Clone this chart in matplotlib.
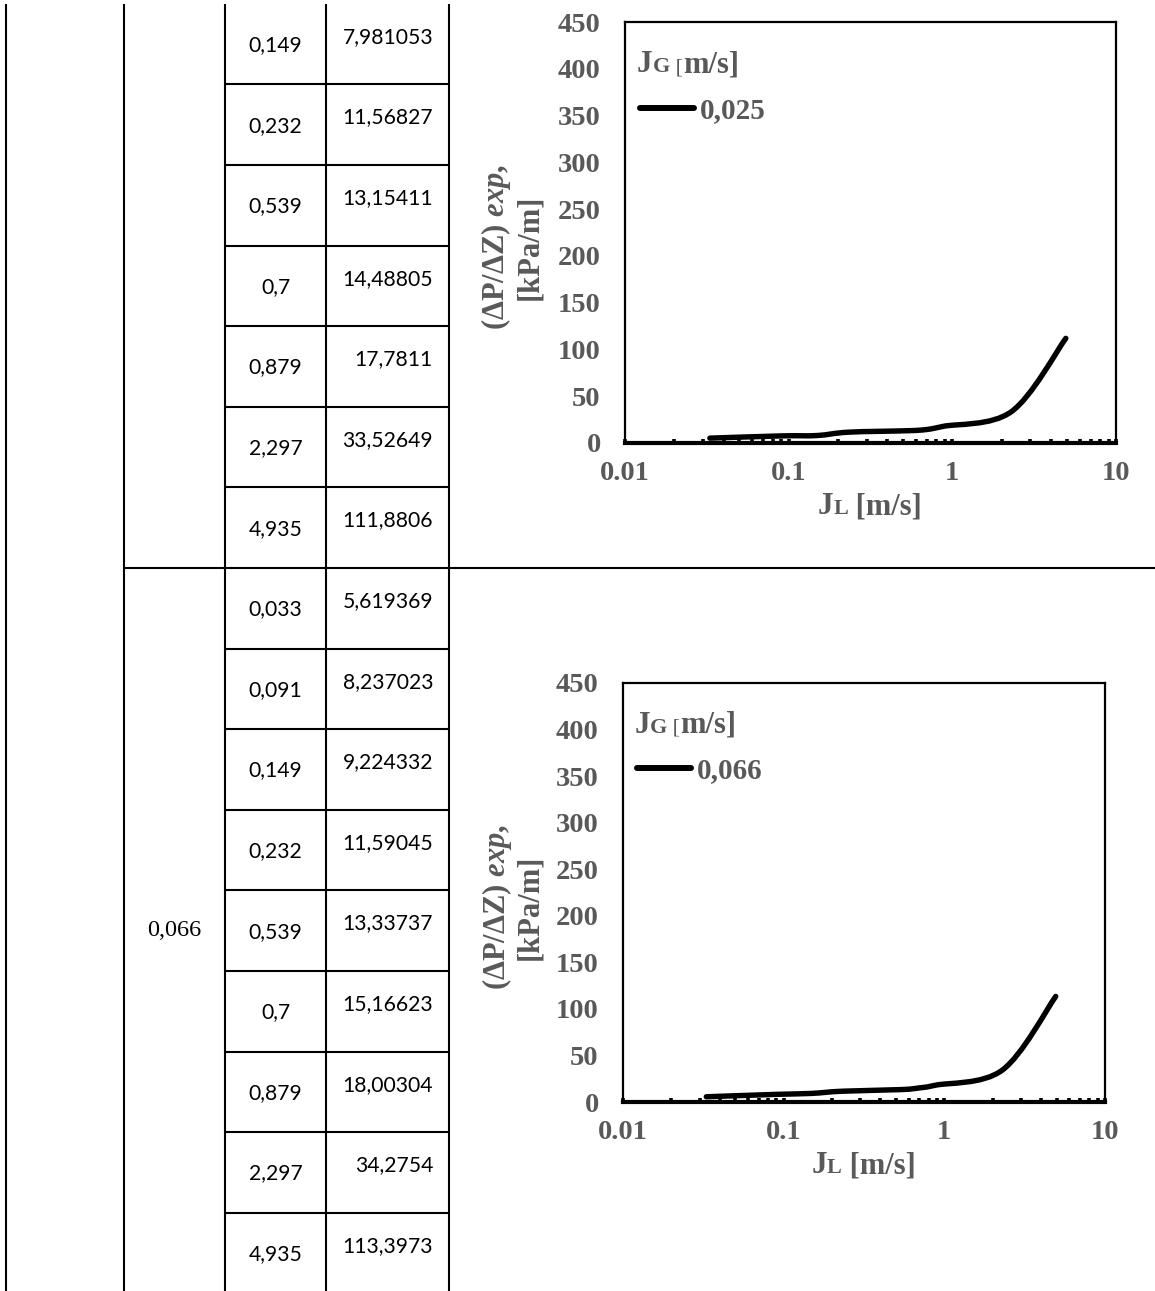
import numpy as np
import matplotlib
matplotlib.use("Agg")
import matplotlib.pyplot as plt
from matplotlib.path import Path
from matplotlib.patches import PathPatch
from matplotlib.lines import Line2D
from matplotlib.ticker import LogLocator, NullFormatter, FixedLocator
from matplotlib.offsetbox import TextArea, HPacker, AnchoredOffsetbox
from matplotlib.font_manager import FontProperties

plt.rcParams['font.family'] = ['Liberation Serif', 'DejaVu Serif']
plt.rcParams['font.weight'] = 'bold'
plt.rcParams['mathtext.fontset'] = 'custom'
plt.rcParams['mathtext.it'] = 'Liberation Serif:italic:bold'
plt.rcParams['mathtext.rm'] = 'Liberation Serif:bold'

# ---- data -----------------------------------------------------------------
# liquid superficial velocity J_L [m/s]
jl = [0.033, 0.091, 0.149, 0.232, 0.539, 0.7, 0.879, 2.297, 4.935]
# measured pressure gradient (dP/dZ)exp [kPa/m] for each gas velocity J_G
dp_jg025 = [5.2, 7.6, 7.981053, 11.56827, 13.15411, 14.48805, 17.7811, 33.52649, 111.8806]
dp_jg066 = [5.619369, 8.237023, 9.224332, 11.59045, 13.33737, 15.16623, 18.00304, 34.2754, 113.3973]
jg_labels = ["0,025", "0,066"]

x_ticks = [0.01, 0.1, 1, 10]
x_tick_labels = ["0.01", "0.1", "1", "10"]
y_ticks = [0, 50, 100, 150, 200, 250, 300, 350, 400, 450]

GRAY = '#595959'
W, H = 1155, 1291


def fmt(v):
    return str(v).replace('.', ',')


fig = plt.figure(figsize=(W / 100, H / 100), dpi=100)

# ---- table grid (pixel coordinates) ----------------------------------------
tab = fig.add_axes([0, 0, 1, 1])
tab.set_xlim(0, W)
tab.set_ylim(H, 0)
tab.axis('off')

col_x = [6, 124, 225, 326, 449]
row_h = 80.6
split_y = 568
first_visible = 2                      # rows of the first block above the page
sec1_top = split_y - (len(jl) - first_visible) * row_h
lw_tab = 1.5

tab.vlines(col_x, sec1_top, H, color='black', lw=lw_tab)
tab.hlines(split_y, col_x[1], W, color='black', lw=lw_tab)
for k in range(1, len(jl) - first_visible):
    tab.hlines(sec1_top + k * row_h, col_x[2], col_x[4], color='black', lw=lw_tab)
for k in range(1, len(jl)):
    tab.hlines(split_y + k * row_h, col_x[2], col_x[4], color='black', lw=lw_tab)

cell_font = dict(family=['Lato', 'DejaVu Sans'], weight='normal', size=15.2, color='black')
xc = (col_x[2] + col_x[3]) / 2
xr = col_x[4] - 16

for i in range(first_visible, len(jl)):
    top = sec1_top + (i - first_visible) * row_h
    tab.text(xc, top + row_h / 2 + 1, fmt(jl[i]), ha='center', va='center', **cell_font)
    tab.text(xr, top + 33, fmt(dp_jg025[i]), ha='right', va='center', **cell_font)

for i in range(len(jl)):
    top = split_y + i * row_h
    tab.text(xc, top + row_h / 2 + 1, fmt(jl[i]), ha='center', va='center', **cell_font)
    tab.text(xr, top + 33, fmt(dp_jg066[i]), ha='right', va='center', **cell_font)

tab.text((col_x[1] + col_x[2]) / 2, (split_y + H) / 2 + 1, jg_labels[1], ha='center', va='center',
         family='Liberation Serif', weight='normal', size=17.5, color='black')


# ---- charts -----------------------------------------------------------------
def smooth_path(x, y):
    """Smoothed curve through the points (Catmull-Rom as cubic Beziers, log-x)."""
    pts = np.column_stack([np.log10(x), np.asarray(y, float)])
    n = len(pts)
    verts = [pts[0]]
    codes = [Path.MOVETO]
    for i in range(n - 1):
        p0 = pts[i - 1] if i > 0 else pts[i]
        p1, p2 = pts[i], pts[i + 1]
        p3 = pts[i + 2] if i + 2 < n else pts[i + 1]
        verts += [p1 + (p2 - p0) / 6, p2 - (p3 - p1) / 6, p2]
        codes += [Path.CURVE4] * 3
    verts = np.array(verts)
    verts[:, 0] = 10 ** verts[:, 0]
    return Path(verts, codes)


def mixed_text(parts):
    areas = [TextArea(s, textprops=dict(family='Liberation Serif', weight=w, size=sz, color=GRAY))
             for s, sz, w in parts]
    return HPacker(children=areas, align='baseline', pad=0, sep=0)


def draw_chart(rect, x, y, label, ylab_y):
    ax = fig.add_axes(rect)
    ax.set_xscale('log')
    ax.set_xlim(x_ticks[0], x_ticks[-1])
    ax.set_ylim(y_ticks[0], y_ticks[-1])
    ax.yaxis.set_major_locator(FixedLocator(y_ticks))
    ax.set_xticks(x_ticks, labels=x_tick_labels)
    ax.xaxis.set_minor_locator(LogLocator(base=10, subs=np.arange(2, 10)))
    ax.xaxis.set_minor_formatter(NullFormatter())

    ax.tick_params(axis='y', length=0, pad=17.5, labelsize=20.5, labelcolor=GRAY)
    ax.tick_params(axis='x', which='both', direction='in', length=3.2, width=2.6,
                   pad=13, labelsize=20.5, labelcolor=GRAY, color='black')
    for side in ('left', 'top', 'right'):
        ax.spines[side].set_linewidth(1.6)
    ax.spines['bottom'].set_linewidth(3.0)

    ax.add_patch(PathPatch(smooth_path(x, y), fill=False, lw=3.9, ec='black',
                           capstyle='round', joinstyle='round', zorder=3))

    handle = Line2D([], [], color='black', lw=4.3, solid_capstyle='round')
    leg = ax.legend([handle], [label], loc='center left', bbox_to_anchor=(0.03, 0.79),
                    frameon=False, handlelength=1.85, handletextpad=0.2,
                    borderpad=0, borderaxespad=0,
                    prop=FontProperties(family='Liberation Serif', weight='bold', size=21))
    for t in leg.get_texts():
        t.set_color(GRAY)

    title = mixed_text([("J", 22.5, 'bold'), ("G", 16, 'bold'), (" [", 16, 'normal'), ("m/s]", 22, 'bold')])
    ax.add_artist(AnchoredOffsetbox(loc='center left', child=title, pad=0, borderpad=0, frameon=False,
                                    bbox_to_anchor=(0.024, 0.899), bbox_transform=ax.transAxes))

    xlab = mixed_text([("J", 22.5, 'bold'), ("L", 16, 'bold'), (" [m/s]", 22, 'bold')])
    ax.add_artist(AnchoredOffsetbox(loc='center', child=xlab, pad=0, borderpad=0, frameon=False,
                                    bbox_to_anchor=(0.499, -0.152), bbox_transform=ax.transAxes))

    ax.text(-0.230, ylab_y, "(ΔP/ΔZ) $exp$,\n[kPa/m]", transform=ax.transAxes, rotation=90,
            ha='center', va='center', multialignment='center', fontsize=22,
            fontweight='bold', color=GRAY, linespacing=1.1)
    return ax


draw_chart([625 / W, 1 - 443 / H, (1116 - 625) / W, (443 - 22) / H], jl, dp_jg025, jg_labels[0], 0.466)
draw_chart([623 / W, 1 - 1102 / H, (1105 - 623) / W, (1102 - 683) / H], jl, dp_jg066, jg_labels[1], 0.465)

fig.savefig('out.png', dpi=100)
